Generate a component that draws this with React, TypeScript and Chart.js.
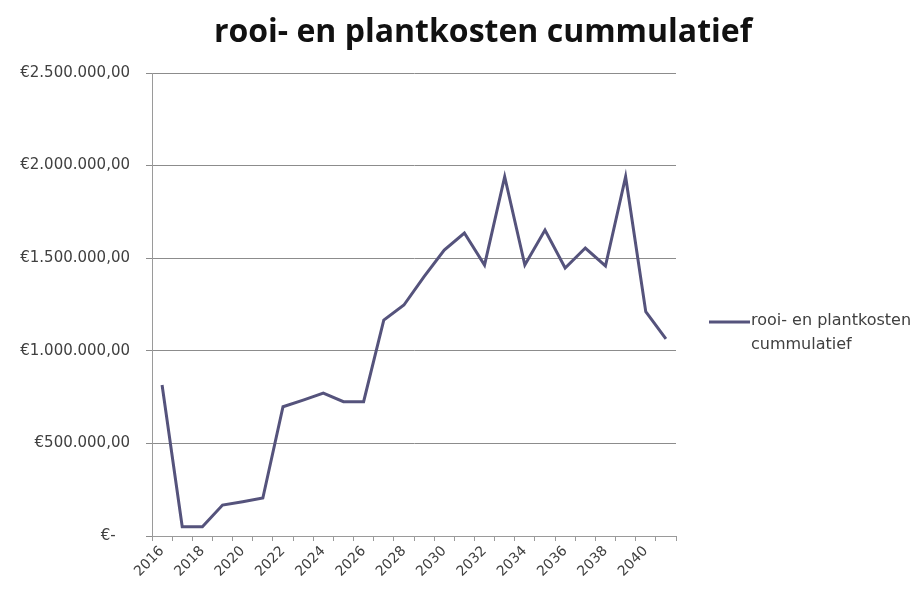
import React, { useEffect, useRef } from "react";
import { Chart, registerables } from "chart.js";

Chart.register(...registerables);

const TITLE = "rooi- en plantkosten cummulatief";
const SERIES_LABEL = ["rooi- en plantkosten", "cummulatief"];
const YEARS = [
  "2016", "2017", "2018", "2019", "2020", "2021", "2022", "2023", "2024", "2025",
  "2026", "2027", "2028", "2029", "2030", "2031", "2032", "2033", "2034", "2035",
  "2036", "2037", "2038", "2039", "2040", "2041",
];
const VALUES = [
  815000, 50000, 50000, 167000, 185000, 205000, 698000, 734000, 772000, 725000,
  725000, 1166000, 1247000, 1400000, 1544000, 1636000, 1463000, 1940000, 1463000, 1652000,
  1447000, 1555000, 1458000, 1940000, 1211000, 1064000,
];
const Y_TICKS = [0, 500000, 1000000, 1500000, 2000000, 2500000];

const LINE_COLOR = "#55537c";
const TEXT_FONT = "'DejaVu Sans', sans-serif";
const TITLE_FONT = "'Open Sans', sans-serif";

function euro(v: number): string {
  if (v === 0) return "€-   ";
  const s = Math.round(v).toString().replace(/\B(?=(\d{3})+(?!\d))/g, ".");
  return "€" + s + ",00";
}

const titleAndLegendPlugin = {
  id: "titleAndLegend",
  afterDraw(chart: any) {
    const ctx = chart.ctx;
    ctx.save();
    // title
    ctx.fillStyle = "#111111";
    ctx.font = `bold 32px ${TITLE_FONT}`;
    ctx.textAlign = "center";
    ctx.textBaseline = "middle";
    ctx.fillText(TITLE, 483, 33);
    // legend
    ctx.strokeStyle = LINE_COLOR;
    ctx.lineWidth = 3;
    ctx.beginPath();
    ctx.moveTo(709, 322);
    ctx.lineTo(750, 322);
    ctx.stroke();
    ctx.fillStyle = "#404040";
    ctx.font = `16px ${TEXT_FONT}`;
    ctx.textAlign = "left";
    ctx.fillText(SERIES_LABEL[0], 751, 321);
    ctx.fillText(SERIES_LABEL[1], 751, 345);
    ctx.restore();
  },
};

export default function App() {
  const ref = useRef<HTMLCanvasElement | null>(null);
  useEffect(() => {
    if (!ref.current) return;
    const chart = new Chart(ref.current, {
      type: "line",
      data: {
        labels: YEARS,
        datasets: [
          {
            label: SERIES_LABEL.join(" "),
            data: VALUES,
            borderColor: LINE_COLOR,
            backgroundColor: LINE_COLOR,
            borderWidth: 3,
            pointRadius: 0,
            tension: 0,
          },
        ],
      },
      options: {
        animation: false,
        responsive: false,
        maintainAspectRatio: false,
        layout: { padding: { left: 0, right: 248, top: 73, bottom: 0 } },
        plugins: {
          legend: { display: false },
          tooltip: { enabled: false },
          title: { display: false },
        },
        scales: {
          x: {
            type: "category",
            offset: true,
            grid: {
              offset: true,
              drawOnChartArea: false,
              drawTicks: true,
              tickLength: 5,
              color: "#9a9a9a",
            },
            border: { color: "#9a9a9a", width: 1 },
            ticks: {
              autoSkip: false,
              maxRotation: 45,
              minRotation: 45,
              color: "#404040",
              font: { family: TEXT_FONT, size: 14 },
              padding: 2,
              callback: (_v: any, i: number) => (i % 2 === 0 ? YEARS[i] : ""),
            },
            afterFit: (s: any) => {
              s.height = 58;
            },
          },
          y: {
            min: 0,
            max: 2500000,
            afterBuildTicks: (s: any) => {
              s.ticks = Y_TICKS.map((v) => ({ value: v }));
            },
            grid: {
              color: "#8c8c8c",
              lineWidth: 1,
              drawTicks: true,
              tickLength: 6,
            },
            border: { color: "#9a9a9a", width: 1 },
            ticks: {
              color: "#404040",
              font: { family: TEXT_FONT, size: 15 },
              padding: 16,
              callback: (v: any) => euro(Number(v)),
            },
            afterFit: (s: any) => {
              s.width = 152;
            },
          },
        },
      },
      plugins: [titleAndLegendPlugin],
    });
    return () => chart.destroy();
  }, []);
  return (
    <div style={{ position: "absolute", left: 0, top: 0, width: 924, height: 594, background: "#ffffff" }}>
      <canvas ref={ref} width={924} height={594} />
    </div>
  );
}
